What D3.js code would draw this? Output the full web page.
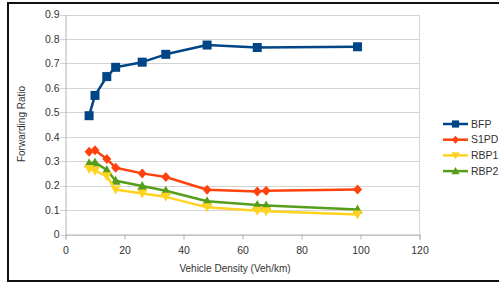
<!DOCTYPE html>
<html>
<head>
<meta charset="utf-8">
<script src="https://cdn.jsdelivr.net/npm/d3@7"></script>
<style>
  body { margin: 0; background: #fff; }
  text { font-family: "Liberation Sans", Arial, sans-serif; fill: #333; }
</style>
</head>
<body>
<svg id="chart"></svg>
<script>
// data
var density = [8, 10, 14, 17, 26, 34, 48, 65, 68, 99];
var bfpX = [8, 10, 14, 17, 26, 34, 48, 65, 99];
var bfp = [0.486, 0.569, 0.646, 0.684, 0.705, 0.737, 0.775, 0.765, 0.768];
var s1pd = [0.339, 0.345, 0.309, 0.273, 0.250, 0.235, 0.183, 0.176, 0.179, 0.184];
var rbp1 = [0.268, 0.261, 0.238, 0.184, 0.168, 0.154, 0.111, 0.097, 0.095, 0.082];
var rbp2 = [0.291, 0.295, 0.264, 0.220, 0.198, 0.179, 0.136, 0.121, 0.119, 0.102];
var yTicks = [0, 0.1, 0.2, 0.3, 0.4, 0.5, 0.6, 0.7, 0.8, 0.9];
var xTicks = [0, 20, 40, 60, 80, 100, 120];

var series = [
    {name: "BFP", xs: bfpX, ys: bfp, color: "#004586", symbol: "square"},
    {name: "S1PD", xs: density, ys: s1pd, color: "#ff420e", symbol: "diamond"},
    {name: "RBP1", xs: density, ys: rbp1, color: "#ffd320", symbol: "down"},
    {name: "RBP2", xs: density, ys: rbp2, color: "#579d1c", symbol: "up"}
];

var W = 499, H = 284;
var svg = d3.select("#chart").attr("width", W).attr("height", H);

// outer frame
svg.append("rect")
    .attr("x", 8).attr("y", 3)
    .attr("width", W).attr("height", 278)
    .attr("fill", "none").attr("stroke", "#111").attr("stroke-width", 2);

var x = d3.scaleLinear().domain([0, 120]).range([65.5, 419.5]);
var y = d3.scaleLinear().domain([0, 0.9]).range([234.5, 14.5]);

// gridlines
svg.append("g").selectAll("line")
    .data(yTicks)
    .enter().append("line")
    .attr("x1", 60).attr("x2", x(120))
    .attr("y1", function (d) { return Math.round(y(d)) + 0.5; })
    .attr("y2", function (d) { return Math.round(y(d)) + 0.5; })
    .attr("stroke", "#d4d4d4");

var yAxis = d3.axisLeft(y).tickValues(yTicks).tickSize(0).tickPadding(6)
    .tickFormat(function (d) { return d === 0 ? "0" : d3.format(".1f")(d); });
svg.append("g")
    .attr("transform", "translate(" + x(0) + ",0)")
    .call(yAxis)
    .call(function (g) {
        g.select(".domain").attr("stroke", "#b3b3b3");
        g.selectAll("text").style("font-size", "10.5px").attr("fill", "#333");
    });

var xAxis = d3.axisBottom(x).tickValues(xTicks).tickSize(5).tickPadding(7);
svg.append("g")
    .attr("transform", "translate(0," + y(0) + ")")
    .call(xAxis)
    .call(function (g) {
        g.select(".domain").attr("stroke", "#b3b3b3");
        g.selectAll(".tick line").attr("stroke", "#b3b3b3");
        g.selectAll("text").style("font-size", "10.5px").attr("fill", "#333");
    });

// right border of plot
svg.append("line")
    .attr("x1", x(120)).attr("x2", x(120))
    .attr("y1", y(0.9)).attr("y2", y(0))
    .attr("stroke", "#d4d4d4");

svg.append("text")
    .attr("x", 235).attr("y", 272)
    .attr("text-anchor", "middle")
    .style("font-size", "10px")
    .text("Vehicle Density (Veh/km)");

svg.append("text")
    .attr("transform", "translate(25,124) rotate(-90)")
    .attr("text-anchor", "middle")
    .style("font-size", "10px")
    .text("Forwarding Ratio");

function marker(sel, s) {
    if (s.symbol === "square") {
        sel.append("rect").attr("x", -4.5).attr("y", -4.5).attr("width", 9).attr("height", 9);
    } else if (s.symbol === "diamond") {
        sel.append("path").attr("d", "M0,-5L4.5,0L0,5L-4.5,0Z");
    } else if (s.symbol === "down") {
        sel.append("path").attr("d", "M-5,-4L5,-4L0,5Z");
    } else {
        sel.append("path").attr("d", "M-5,4L5,4L0,-5Z");
    }
}

var line = d3.line()
    .x(function (d) { return x(d[0]); })
    .y(function (d) { return y(d[1]); });

// draw in reverse so BFP/S1PD sit on top
series.slice().reverse().forEach(function (s) {
    var pts = s.xs.map(function (v, i) { return [v, s.ys[i]]; });
    svg.append("path")
        .datum(pts)
        .attr("d", line)
        .attr("fill", "none")
        .attr("stroke", s.color)
        .attr("stroke-width", 2.5)
        .attr("stroke-linejoin", "round");
    svg.append("g").selectAll("g")
        .data(pts)
        .enter().append("g")
        .attr("transform", function (d) { return "translate(" + x(d[0]) + "," + y(d[1]) + ")"; })
        .attr("fill", s.color)
        .each(function () { marker(d3.select(this), s); });
});

// legend
var legend = svg.append("g").selectAll("g")
    .data(series)
    .enter().append("g")
    .attr("transform", function (d, i) { return "translate(443," + (124 + i * 15.7) + ")"; });
legend.append("line")
    .attr("x1", 0).attr("x2", 25)
    .attr("stroke", function (d) { return d.color; })
    .attr("stroke-width", 2.5);
legend.each(function (d) {
    var g = d3.select(this).append("g")
        .attr("transform", "translate(12.5,0) scale(0.8)")
        .attr("fill", d.color);
    marker(g, d);
});
legend.append("text")
    .attr("x", 28).attr("dy", "0.35em")
    .style("font-size", "10.5px")
    .text(function (d) { return d.name; });
</script>
</body>
</html>
